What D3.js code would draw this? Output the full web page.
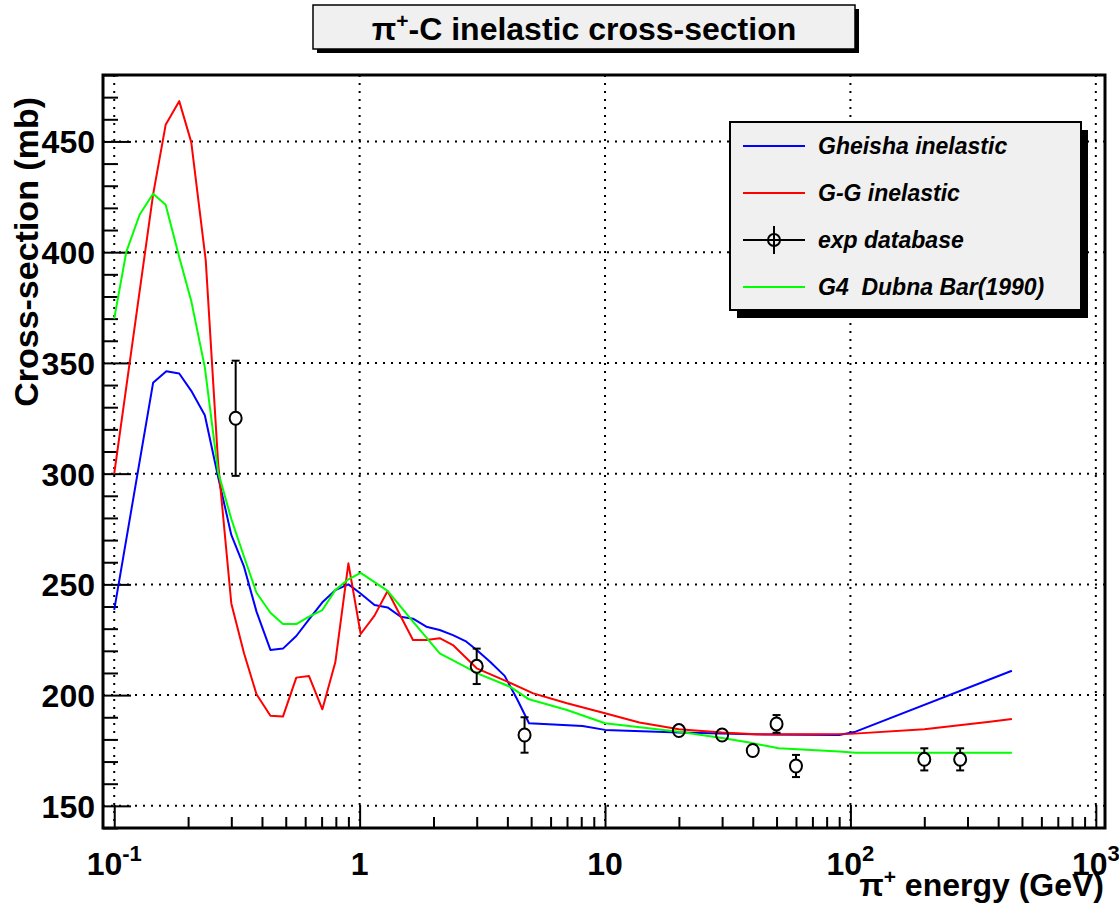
<!DOCTYPE html>
<html>
<head>
<meta charset="utf-8">
<script src="https://cdn.jsdelivr.net/npm/d3@7"></script>
<style>
body { margin: 0; background: #fff; }
svg text { font-family: "Liberation Sans", Arial, Helvetica, sans-serif; font-weight: bold; }
</style>
</head>
<body>
<div id="chart"></div>
<script>
// Gheisha inelastic (blue)
var gheishaE  = [0.1, 0.144, 0.163, 0.184, 0.206, 0.234, 0.265, 0.300, 0.338, 0.380, 0.433, 0.487, 0.552, 0.622, 0.705, 0.796, 0.9, 1.0, 1.15, 1.3, 1.47, 1.65, 1.87, 2.12, 2.4, 2.7, 3.0, 3.4, 3.9, 4.4, 4.9, 8.1, 10, 20, 40, 90, 105, 455];
var gheishaXS = [238.5, 341, 346.2, 345.2, 337.4, 326.4, 298.6, 272.3, 258, 237.7, 220.4, 221, 226.7, 234.2, 241.9, 247.4, 250, 246.2, 240.7, 239.6, 235.4, 234.5, 230.9, 229.4, 227.1, 224.4, 220.4, 215.1, 208.7, 197.8, 187.3, 186.1, 184.3, 183.1, 182.3, 182, 183.5, 211];

// G-G inelastic (red)
var ggE  = [0.1, 0.144, 0.162, 0.184, 0.206, 0.236, 0.265, 0.300, 0.338, 0.380, 0.433, 0.487, 0.552, 0.622, 0.705, 0.796, 0.9, 1.01, 1.15, 1.3, 1.65, 1.87, 2.12, 2.4, 3.0, 4.0, 5.1, 7.0, 10, 13.8, 20, 30, 41, 70, 100, 200, 370, 455];
var ggXS = [300, 426, 457.5, 468.2, 449.7, 396.3, 305, 241.4, 218.9, 200.4, 190.7, 190.3, 207.9, 208.6, 193.6, 214.8, 259.5, 227.6, 235.9, 247, 224.9, 224.9, 225.7, 222.6, 212.1, 206.1, 200.8, 196.3, 191.8, 187.6, 184.6, 183.1, 182.3, 182.3, 182.5, 184.6, 188, 189.2];

// G4 Dubna Bar(1990) (green)
var dubnaE  = [0.1, 0.112, 0.127, 0.144, 0.162, 0.184, 0.206, 0.234, 0.265, 0.300, 0.338, 0.380, 0.433, 0.487, 0.552, 0.622, 0.705, 0.796, 0.9, 1.01, 1.3, 1.65, 2.12, 2.7, 3.0, 4.1, 4.9, 7.0, 10, 20, 30, 38.7, 51, 90, 105, 455];
var dubnaXS = [370, 400.1, 417, 426.4, 421.4, 397.8, 378, 348, 300.8, 279.5, 262.5, 246.2, 237.2, 232.1, 232.1, 235.4, 238.4, 247.4, 252.3, 255.2, 247.1, 233.2, 218.8, 212.8, 209.9, 203.8, 198.1, 193.3, 187.3, 183.5, 180.6, 178.6, 176, 174.5, 174, 174];

// exp database
var expE   = [0.3125, 3.0, 4.7, 20, 30, 40, 50, 60, 200, 280];
var expXS  = [325, 213, 182, 184, 182, 175, 187, 168, 171, 171];
var expErr = [26, 8, 8, 2, 2, 3, 4, 5, 5, 5];

var yTicks = [150, 200, 250, 300, 350, 400, 450];
var xDecades = [0.1, 1, 10, 100, 1000];
var xLabels = [["10", "-1"], ["1", ""], ["10", ""], ["10", "2"], ["10", "3"]];

var legendNames = ["Gheisha inelastic", "G-G inelastic", "exp database", "G4  Dubna Bar(1990)"];
var legendColors = ["#0000ff", "#ff0000", "#000000", "#00ff00"];

var W = 1119, H = 911;
var frame = { left: 103, right: 1105, top: 75, bottom: 828 };

var svg = d3.select("#chart").append("svg")
    .attr("width", W)
    .attr("height", H);

var x = d3.scaleLog().domain([0.09, 1090]).range([frame.left, frame.right]);
var y = d3.scaleLinear().domain([140, 480]).range([frame.bottom, frame.top]);

//dotted grid
svg.append("g").selectAll("line")
    .data(xDecades)
    .enter().append("line")
    .attr("x1", d => x(d)).attr("x2", d => x(d))
    .attr("y1", frame.top).attr("y2", frame.bottom)
    .attr("stroke", "#000").attr("stroke-width", 2)
    .attr("stroke-dasharray", "2,6");

svg.append("g").selectAll("line")
    .data(yTicks)
    .enter().append("line")
    .attr("x1", frame.left).attr("x2", frame.right)
    .attr("y1", d => y(d)).attr("y2", d => y(d))
    .attr("stroke", "#000").attr("stroke-width", 2)
    .attr("stroke-dasharray", "2,6");

//y ticks, pointing into the frame
var yMinor = d3.range(140, 481, 10).filter(v => v % 50 !== 0);
svg.append("g")
    .attr("transform", "translate(" + frame.left + ",0)")
    .call(d3.axisLeft(y).tickValues(yMinor).tickSize(-15).tickFormat(""))
    .call(g => g.select(".domain").remove())
    .selectAll("line").attr("stroke-width", 2);

var yAxis = svg.append("g")
    .attr("transform", "translate(" + frame.left + ",0)")
    .call(d3.axisLeft(y).tickValues(yTicks).tickSize(-28).tickPadding(8).tickFormat(d3.format("d")));
yAxis.select(".domain").remove();
yAxis.selectAll("line").attr("stroke-width", 2);
yAxis.selectAll("text")
    .attr("font-size", 32)
    .attr("fill", "#000")
    .attr("dy", "0.36em");

//x ticks, pointing up
var xMinor = [];
xDecades.slice(0, 4).forEach(function (d) {
    for (var k = 2; k <= 9; k++) { xMinor.push(d * k); }
});
svg.append("g")
    .attr("transform", "translate(0," + frame.bottom + ")")
    .call(d3.axisBottom(x).tickValues(xMinor).tickSize(-11).tickFormat(""))
    .call(g => g.select(".domain").remove())
    .selectAll("line").attr("stroke-width", 2);
svg.append("g")
    .attr("transform", "translate(0," + frame.bottom + ")")
    .call(d3.axisBottom(x).tickValues(xDecades).tickSize(-23).tickFormat(""))
    .call(g => g.select(".domain").remove())
    .selectAll("line").attr("stroke-width", 2);

//x labels with exponents
var xl = svg.append("g").selectAll("text")
    .data(xDecades)
    .enter().append("text")
    .attr("x", d => x(d))
    .attr("y", 875)
    .attr("text-anchor", "middle")
    .attr("font-size", 32);
xl.append("tspan").text((d, i) => xLabels[i][0]);
xl.append("tspan")
    .attr("font-size", 22)
    .attr("dy", -14)
    .text((d, i) => xLabels[i][1]);

//frame
svg.append("rect")
    .attr("x", frame.left).attr("y", frame.top)
    .attr("width", frame.right - frame.left)
    .attr("height", frame.bottom - frame.top)
    .attr("fill", "none")
    .attr("stroke", "#000")
    .attr("stroke-width", 3);

//curves
var line = d3.line().x(d => x(d[0])).y(d => y(d[1]));
var curves = [
    { e: gheishaE, xs: gheishaXS, color: "#0000ff" },
    { e: ggE, xs: ggXS, color: "#ff0000" },
    { e: dubnaE, xs: dubnaXS, color: "#00ff00" }
];
curves.forEach(function (c) {
    svg.append("path")
        .datum(d3.zip(c.e, c.xs))
        .attr("d", line)
        .attr("fill", "none")
        .attr("stroke", c.color)
        .attr("stroke-width", 2)
        .attr("stroke-linejoin", "round");
});

//experimental points, open circles with error bars
var r = 6;
var pts = svg.append("g").selectAll("g")
    .data(d3.range(expE.length))
    .enter().append("g")
    .attr("transform", i => "translate(" + x(expE[i]) + "," + y(expXS[i]) + ")");
pts.each(function (i) {
    var g = d3.select(this);
    var top = y(expXS[i] + expErr[i]) - y(expXS[i]);
    var bot = y(expXS[i] - expErr[i]) - y(expXS[i]);
    if (-top > r + 1) {
        g.append("line").attr("x1", 0).attr("x2", 0).attr("y1", top).attr("y2", -r);
        g.append("line").attr("x1", -4).attr("x2", 4).attr("y1", top).attr("y2", top);
        g.append("line").attr("x1", 0).attr("x2", 0).attr("y1", r).attr("y2", bot);
        g.append("line").attr("x1", -4).attr("x2", 4).attr("y1", bot).attr("y2", bot);
    }
    g.selectAll("line").attr("stroke", "#000").attr("stroke-width", 2);
    g.append("ellipse")
        .attr("rx", r).attr("ry", r + 0.5)
        .attr("fill", "none")
        .attr("stroke", "#000")
        .attr("stroke-width", 2);
});

//title box
svg.append("rect").attr("x", 317).attr("y", 9).attr("width", 542).attr("height", 44).attr("fill", "#000");
svg.append("rect").attr("x", 313).attr("y", 5).attr("width", 542).attr("height", 44)
    .attr("fill", "#f0f0f0").attr("stroke", "#000").attr("stroke-width", 1.5);
var title = svg.append("text")
    .attr("x", 584).attr("y", 40)
    .attr("text-anchor", "middle")
    .attr("font-size", 32);
title.append("tspan").text("π");
title.append("tspan").attr("font-size", 21).attr("dy", -12).text("+");
title.append("tspan").attr("dy", 12).text("-C inelastic cross-section");

//axis titles
svg.append("text")
    .attr("transform", "translate(38,97) rotate(-90)")
    .attr("text-anchor", "end")
    .attr("font-size", 34)
    .text("Cross-section (mb)");

var xt = svg.append("text")
    .attr("x", 1104).attr("y", 896)
    .attr("text-anchor", "end")
    .attr("font-size", 32);
xt.append("tspan").text("π");
xt.append("tspan").attr("font-size", 21).attr("dy", -12).text("+");
xt.append("tspan").attr("dy", 12).text(" energy (GeV)");

//legend
var lg = svg.append("g");
lg.append("rect").attr("x", 737).attr("y", 130).attr("width", 351).attr("height", 188).attr("fill", "#000");
lg.append("rect").attr("x", 730).attr("y", 122).attr("width", 351).attr("height", 188)
    .attr("fill", "#f0f0f0").attr("stroke", "#000").attr("stroke-width", 2);
legendNames.forEach(function (name, i) {
    var ly = 146 + i * 47;
    lg.append("line")
        .attr("x1", 743).attr("x2", 805)
        .attr("y1", ly).attr("y2", ly)
        .attr("stroke", legendColors[i]).attr("stroke-width", 2);
    if (name === "exp database") {
        lg.append("line").attr("x1", 774).attr("x2", 774).attr("y1", ly - 14).attr("y2", ly + 14)
            .attr("stroke", "#000").attr("stroke-width", 2);
        lg.append("circle").attr("cx", 774).attr("cy", ly).attr("r", r)
            .attr("fill", "none").attr("stroke", "#000").attr("stroke-width", 2);
    }
    lg.append("text")
        .attr("x", 818).attr("y", ly + 8)
        .attr("font-size", 23)
        .attr("font-style", "italic")
        .attr("xml:space", "preserve")
        .style("white-space", "pre")
        .text(name);
});
</script>
</body>
</html>
